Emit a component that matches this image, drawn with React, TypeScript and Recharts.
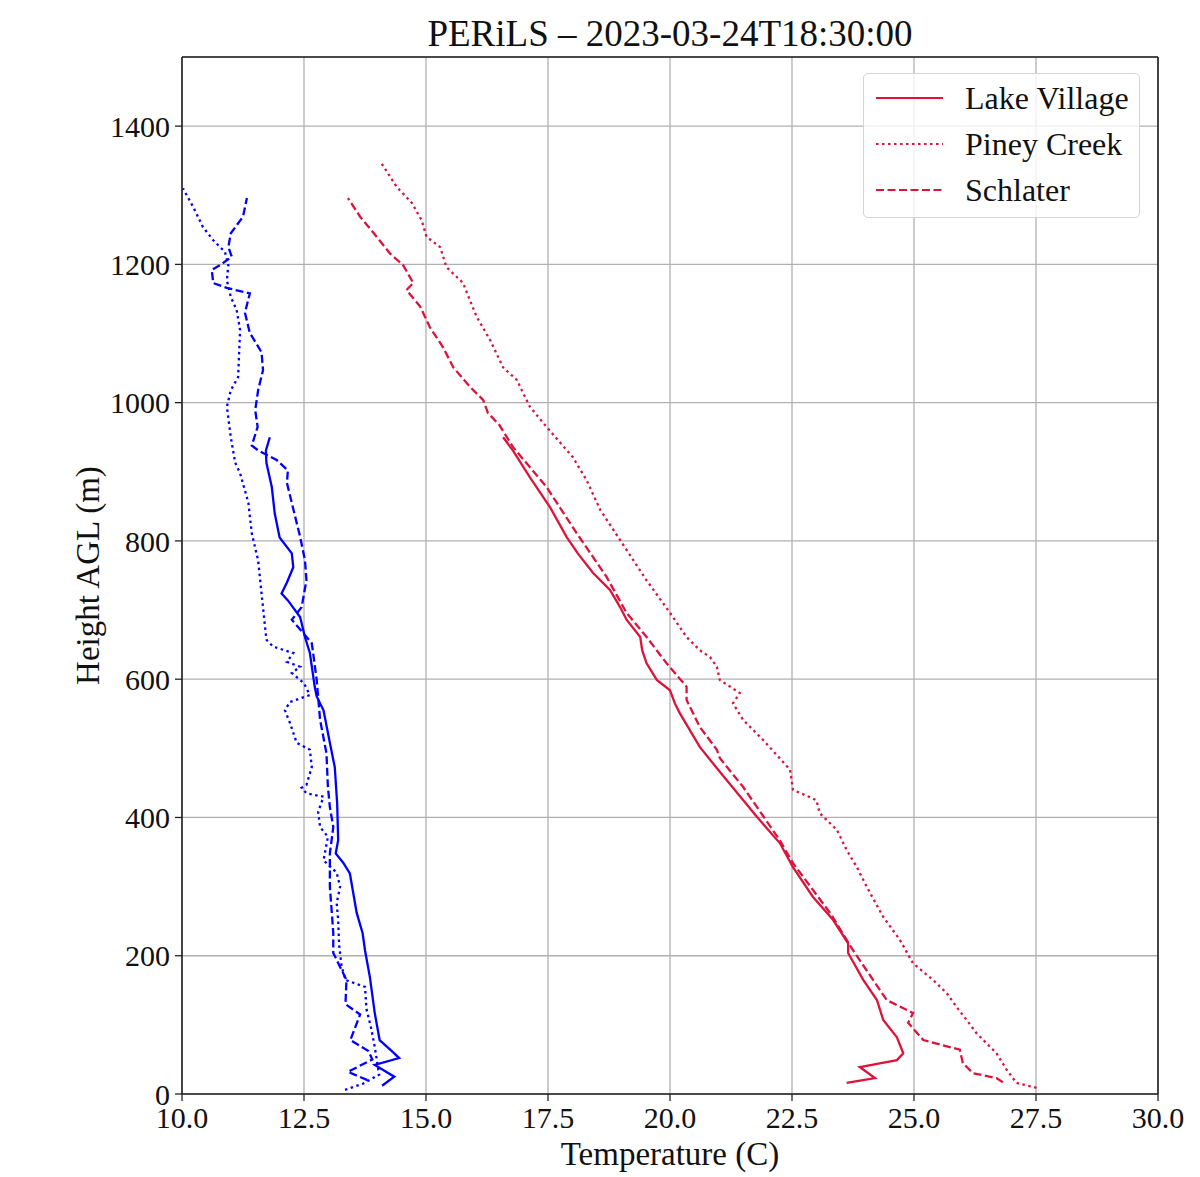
import { LineChart, Line, XAxis, YAxis, CartesianGrid, ReferenceLine, Legend, Label } from "recharts";

const FONT = '"Liberation Serif", "DejaVu Serif", serif';
const BLUE = "#0000ff";
const RED = "#dc143c";

const X_TICKS = [10, 12.5, 15, 17.5, 20, 22.5, 25, 27.5, 30];
const Y_TICKS = [0, 200, 400, 600, 800, 1000, 1200, 1400];

// [temperature C, height m], bottom to top
const LAKE_VILLAGE_BLUE: [number, number][] = [
  [14.1, 12], [14.35, 25], [13.95, 42], [14.45, 52], [14.3, 62], [14.05, 78], [13.95, 117],
  [13.85, 169], [13.75, 208], [13.7, 233], [13.58, 262], [13.44, 319], [13.3, 335], [13.15, 348],
  [13.2, 367], [13.18, 420], [13.13, 473], [13.03, 508], [12.9, 555], [12.76, 575], [12.72, 589],
  [12.62, 638], [12.52, 661], [12.42, 690], [12.17, 714], [12.04, 724], [12.15, 740], [12.28, 762],
  [12.25, 782], [12.0, 805], [11.9, 840], [11.84, 878], [11.73, 913], [11.72, 931], [11.8, 950],
];

const PINEY_CREEK_BLUE: [number, number][] = [
  [13.34, 6], [13.71, 15], [14.04, 28], [13.95, 68], [13.87, 97], [13.78, 123], [13.75, 155],
  [13.35, 165], [13.27, 185], [13.22, 215], [13.2, 252], [13.17, 276], [13.24, 300], [13.17, 320],
  [12.9, 338], [12.99, 372], [12.83, 386], [12.79, 408], [12.9, 430], [12.55, 435], [12.45, 443],
  [12.55, 447], [12.66, 473], [12.62, 498], [12.35, 508], [12.21, 537], [12.11, 555], [12.21, 567],
  [12.62, 577], [12.5, 594], [12.25, 609], [12.42, 618], [12.15, 625], [12.28, 638], [11.87, 647],
  [11.73, 657], [11.63, 724], [11.56, 772], [11.43, 811], [11.36, 855], [11.19, 898], [11.09, 913],
  [11.0, 950], [10.92, 994], [11.0, 1018], [11.15, 1037], [11.19, 1105], [11.12, 1134], [11.0, 1153],
  [10.92, 1177], [10.95, 1199], [10.88, 1218], [10.64, 1235], [10.43, 1254], [10.23, 1283], [10.02, 1310],
];

const SCHLATER_BLUE: [number, number][] = [
  [13.8, 20], [13.4, 32], [13.9, 50], [13.82, 62], [13.45, 78], [13.65, 115], [13.35, 130],
  [13.37, 165], [13.1, 204], [13.1, 233], [13.07, 262], [13.03, 300], [13.03, 348], [13.1, 386],
  [13.03, 415], [12.99, 444], [12.96, 493], [12.83, 541], [12.76, 599], [12.66, 652], [12.25, 686],
  [12.45, 704], [12.55, 743], [12.52, 772], [12.42, 806], [12.25, 855], [12.15, 884], [12.17, 902],
  [11.94, 917], [11.56, 931], [11.43, 938], [11.55, 965], [11.5, 989], [11.56, 1018], [11.66, 1047],
  [11.63, 1073], [11.39, 1101], [11.29, 1130], [11.39, 1158], [10.92, 1166], [10.64, 1173],
  [10.61, 1192], [10.78, 1199], [11.02, 1211], [10.95, 1225], [11.0, 1245], [11.25, 1269], [11.33, 1296],
];

const LAKE_VILLAGE_RED: [number, number][] = [
  [23.62, 16], [24.2, 23], [23.89, 39], [24.65, 49], [24.78, 59], [24.65, 82], [24.37, 107],
  [24.24, 136], [23.96, 165], [23.65, 204], [23.65, 218], [23.34, 252], [22.93, 285], [22.52, 328],
  [22.25, 363], [21.78, 401], [21.02, 466], [20.61, 502], [20.2, 551], [20.1, 565], [20.0, 584],
  [19.73, 599], [19.52, 623], [19.43, 642], [19.39, 661], [19.11, 686], [18.98, 704], [18.77, 729],
  [18.42, 754], [18.11, 782], [17.88, 806], [17.54, 849], [17.13, 892], [16.78, 931], [16.58, 950],
];

const PINEY_CREEK_RED: [number, number][] = [
  [27.51, 9], [27.1, 16], [26.9, 35], [26.69, 59], [26.28, 88], [26.08, 107], [25.87, 126],
  [25.67, 146], [25.39, 165], [24.98, 189], [24.71, 223], [24.37, 256], [24.03, 300], [23.83, 328],
  [23.62, 353], [23.42, 382], [23.07, 406], [23.0, 425], [22.52, 440], [22.46, 469], [21.91, 512],
  [21.5, 541], [21.29, 565], [21.43, 580], [21.02, 599], [20.96, 618], [20.82, 632], [20.61, 642],
  [20.34, 661], [20.0, 696], [19.52, 743], [18.98, 801], [18.57, 845], [18.29, 888], [18.01, 921],
  [17.47, 965], [17.13, 994], [16.99, 1014], [16.86, 1033], [16.58, 1051], [16.31, 1091],
  [16.04, 1124], [15.9, 1148], [15.76, 1173], [15.42, 1196], [15.29, 1225], [15.01, 1240],
  [14.91, 1264], [14.71, 1289], [14.4, 1312], [14.09, 1346],
];

const SCHLATER_RED: [number, number][] = [
  [26.82, 17], [26.69, 23], [26.21, 30], [26.0, 45], [25.94, 64], [25.19, 78], [24.88, 103],
  [24.98, 117], [24.44, 136], [23.75, 208], [23.3, 260], [22.52, 334], [22.25, 367], [21.5, 444],
  [21.02, 486], [20.96, 498], [20.61, 531], [20.34, 570], [20.34, 589], [19.93, 623], [19.52, 661],
  [19.11, 696], [18.7, 748], [18.09, 811], [17.47, 878], [16.78, 936], [16.5, 968], [16.27, 985],
  [16.17, 1004], [15.9, 1023], [15.56, 1051], [15.35, 1080], [15.08, 1109], [14.88, 1139],
  [14.6, 1163], [14.74, 1173], [14.53, 1199], [14.26, 1216], [13.99, 1240], [13.65, 1269], [13.4, 1296],
];

const DOTTED = "2.5 3.5";
const DASHED = "8 3.5";

const LEGEND_ITEMS = [
  { name: "Lake Village", dash: undefined },
  { name: "Piney Creek", dash: DOTTED },
  { name: "Schlater", dash: DASHED },
];

const toRows = (pts: [number, number][]) => pts.map(([t, h]) => ({ t, h }));

const SERIES = [
  { key: "lvb", pts: LAKE_VILLAGE_BLUE, color: BLUE, dash: undefined },
  { key: "pcb", pts: PINEY_CREEK_BLUE, color: BLUE, dash: DOTTED },
  { key: "scb", pts: SCHLATER_BLUE, color: BLUE, dash: DASHED },
  { key: "lvr", pts: LAKE_VILLAGE_RED, color: RED, dash: undefined },
  { key: "pcr", pts: PINEY_CREEK_RED, color: RED, dash: DOTTED },
  { key: "scr", pts: SCHLATER_RED, color: RED, dash: DASHED },
];

function LegendBox() {
  return (
    <div
      style={{
        width: 277,
        height: 145,
        boxSizing: "border-box",
        border: "1.5px solid #d4d4d4",
        borderRadius: 5,
        background: "rgba(255,255,255,0.8)",
        fontFamily: FONT,
        fontSize: 32,
        color: "#111",
        paddingTop: 1,
      }}
    >
      {LEGEND_ITEMS.map((it) => (
        <div key={it.name} style={{ display: "flex", alignItems: "center", height: 46 }}>
          <svg width={101} height={20} style={{ flexShrink: 0 }}>
            <line x1={12} x2={79} y1={10} y2={10} stroke={RED} strokeWidth={2.2} strokeDasharray={it.dash} />
          </svg>
          <span style={{ whiteSpace: "nowrap" }}>{it.name}</span>
        </div>
      ))}
    </div>
  );
}

export default function App() {
  const tickStyle = { fill: "#111", fontSize: 30, fontFamily: FONT };
  return (
    <div style={{ position: "absolute", left: 0, top: 0, width: 1200, height: 1177, background: "#fff" }}>
      <div
        style={{
          position: "absolute",
          left: 182,
          width: 976,
          top: 12,
          textAlign: "center",
          fontFamily: FONT,
          fontSize: 37,
          color: "#111",
          lineHeight: "44px",
          zIndex: 2,
        }}
      >
        PERiLS – 2023-03-24T18:30:00
      </div>
      <LineChart width={1200} height={1177} margin={{ top: 57, right: 42, left: 0, bottom: 0 }}>
        <CartesianGrid stroke="#b0b0b0" strokeWidth={1.3} />
        <XAxis
          type="number"
          dataKey="t"
          domain={[10, 30]}
          ticks={X_TICKS}
          allowDataOverflow
          height={83}
          tick={tickStyle}
          tickFormatter={(v: number) => v.toFixed(1)}
          tickSize={7}
          tickMargin={6}
          axisLine={{ stroke: "#222", strokeWidth: 1.6 }}
          tickLine={{ stroke: "#222", strokeWidth: 1.3 }}
        >
          <Label value="Temperature (C)" position="insideBottom" offset={12} style={{ fill: "#111", fontSize: 33, fontFamily: FONT }} />
        </XAxis>
        <YAxis
          type="number"
          dataKey="h"
          domain={[0, 1500]}
          ticks={Y_TICKS}
          allowDataOverflow
          width={182}
          tick={tickStyle}
          tickSize={7}
          tickMargin={5}
          axisLine={{ stroke: "#222", strokeWidth: 1.6 }}
          tickLine={{ stroke: "#222", strokeWidth: 1.3 }}
        >
          <Label value="Height AGL (m)" angle={-90} position="center" dx={-4} style={{ fill: "#111", fontSize: 33, fontFamily: FONT, textAnchor: "middle" }} />
        </YAxis>
        <ReferenceLine x={30} stroke="#222" strokeWidth={1.6} />
        <ReferenceLine y={1500} stroke="#222" strokeWidth={1.6} />
        {SERIES.map((s) => (
          <Line
            key={s.key}
            data={toRows(s.pts)}
            dataKey="h"
            type="linear"
            stroke={s.color}
            strokeWidth={2.3}
            strokeDasharray={s.dash}
            dot={false}
            activeDot={false}
            isAnimationActive={false}
            legendType="none"
          />
        ))}
        <Legend
          layout="horizontal"
          verticalAlign="middle"
          align="center"
          content={() => <LegendBox />}
          wrapperStyle={{ position: "absolute", left: 863, top: 73, width: 277, height: 145 }}
        />
      </LineChart>
    </div>
  );
}
